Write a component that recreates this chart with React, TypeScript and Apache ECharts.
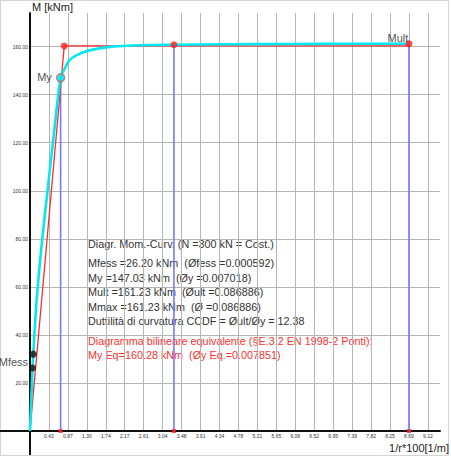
import React, { useEffect, useRef } from "react";
import * as echarts from "echarts";

// Moment-curvature curve (phi in 1/r*100 [1/m], M in kNm)
const curvePhi = [0, 0.0592, 0.075, 0.153, 0.27, 0.42, 0.55, 0.7018, 0.8, 0.917, 1.146, 1.44, 1.88, 2.52, 3.3, 4.5, 6.0, 7.5, 8.6886];
const curveM = [0, 26.2, 32, 54.6, 78, 103, 124, 147.03, 151, 154.6, 157.1, 158.75, 160.0, 160.6, 160.8, 161.0, 161.1, 161.2, 161.23];

// Equivalent bilinear diagram
const bilinPhi = [0, 0.7851, 8.6886];
const bilinM = [0, 160.28, 160.28];

// Characteristic points
const mfessPoints = [[0.0592, 26.2], [0.075, 32]];
const myPoint = [0.7018, 147.03];
const redDots = [[0.7851, 160.28], [3.3, 160.8], [8.6886, 161.23]];
const verticalPhi = [0.7018, 3.3, 8.6886];
const verticalM = [147.03, 160.8, 161.23];

const X_INTERVAL = 8.6886 / 20;
const X_MAX = 9.4;
const Y_INTERVAL = 20;
const Y_MAX = 174;

const infoLines = [
  "Diagr. Mom.-Curv. (N =300 kN = Cost.)",
  "Mfess =26.20 kNm  (Øfess =0.000592)",
  "My =147.03 kNm  (Øy =0.007018)",
  "Mult =161.23 kNm  (Øult =0.086886)",
  "Mmax =161.23 kNm  (Ø =0.086886)",
  "Duttilità di curvatura CCDF = Øult/Øy = 12.38",
];
const infoY = [244, 263, 278, 292, 307, 321];
const redLines = [
  "Diagramma bilineare equivalente (§E.3.2 EN 1998-2 Ponti):",
  "My Eq=160.28 kNm  (Øy Eq.=0.007851)",
];
const redY = [341, 355];

const W = 451;
const H = 457;
const GRID_LEFT = 30;
const GRID_RIGHT = 11;
const GRID_TOP = 13;
const GRID_BOTTOM = 26;
const FONT = "Liberation Sans, Arial, sans-serif";

export default function App() {
  const ref = useRef<HTMLDivElement>(null);
  useEffect(() => {
    document.body.style.margin = "0";
    const chart = echarts.init(ref.current!, null, { renderer: "svg" });
    const vertData: any[] = [];
    verticalPhi.forEach((p, i) => {
      vertData.push([p, 0], [p, verticalM[i]], "-");
    });
    const originY = H - GRID_BOTTOM;
    const graphics: any[] = [
      { type: "rect", shape: { x: 0.5, y: 0.5, width: 448, height: 455 }, style: { fill: "none", stroke: "#d4d4d4", lineWidth: 1 }, silent: true },
      { type: "line", shape: { x1: 0, y1: originY, x2: GRID_LEFT, y2: originY }, style: { stroke: "#111", lineWidth: 2 } },
      { type: "line", shape: { x1: GRID_LEFT, y1: originY, x2: GRID_LEFT, y2: 455 }, style: { stroke: "#111", lineWidth: 2 } },
      { type: "text", x: 32, y: 7, style: { text: "M [kNm]", font: `11px ${FONT}`, fill: "#222", textVerticalAlign: "middle" } },
      { type: "text", x: 449, y: 448, style: { text: "1/r*100[1/m]", font: `11px ${FONT}`, fill: "#222", textAlign: "right", textVerticalAlign: "middle" } },
    ];
    infoLines.forEach((t, i) => {
      graphics.push({ type: "text", x: 88, y: infoY[i], style: { text: t, font: `10.8px ${FONT}`, fill: "#333", textVerticalAlign: "middle" } });
    });
    redLines.forEach((t, i) => {
      graphics.push({ type: "text", x: 88, y: redY[i], style: { text: t, font: `10.8px ${FONT}`, fill: "#ff3030", textVerticalAlign: "middle" } });
    });

    chart.setOption({
      animation: false,
      backgroundColor: "#ffffff",
      grid: { left: GRID_LEFT, right: GRID_RIGHT, top: GRID_TOP, bottom: GRID_BOTTOM, containLabel: false },
      xAxis: {
        type: "value",
        min: 0,
        max: X_MAX,
        interval: X_INTERVAL,
        axisLine: { onZero: true, lineStyle: { color: "#111", width: 2 } },
        axisTick: { show: false },
        splitLine: { show: true, showMinLine: false, showMaxLine: false, lineStyle: { color: "#b4b4b4", width: 1 } },
        axisLabel: {
          fontSize: 5,
          fontFamily: FONT,
          color: "#333",
          margin: 2,
          formatter: (v: number) => (v <= 0 || v > 9.2 ? "" : v.toFixed(2)),
        },
      },
      yAxis: {
        type: "value",
        min: 0,
        max: Y_MAX,
        interval: Y_INTERVAL,
        axisLine: { onZero: true, lineStyle: { color: "#111", width: 2 } },
        axisTick: { show: false },
        splitLine: { show: true, showMinLine: false, showMaxLine: false, lineStyle: { color: "#b4b4b4", width: 1 } },
        axisLabel: {
          fontSize: 5,
          fontFamily: FONT,
          color: "#333",
          margin: 2,
          formatter: (v: number) => (v <= 0 || v > 165 ? "" : v.toFixed(2)),
        },
      },
      series: [
        {
          type: "line",
          data: vertData,
          connectNulls: false,
          showSymbol: false,
          lineStyle: { color: "#7878ff", width: 1.6 },
          z: 2,
        },
        {
          type: "line",
          data: bilinPhi.map((p, i) => [p, bilinM[i]]),
          showSymbol: false,
          lineStyle: { color: "#ff2a2a", width: 1.3 },
          z: 3,
        },
        {
          type: "line",
          data: curvePhi.map((p, i) => [p, curveM[i]]),
          smooth: 0.3,
          showSymbol: false,
          lineStyle: { color: "#00e8f2", width: 2.6 },
          z: 4,
        },
        {
          type: "scatter",
          data: verticalPhi.map((p) => [p, 0]),
          symbol: "rect",
          symbolSize: 4,
          itemStyle: { color: "#ff2020" },
          z: 5,
        },
        {
          type: "scatter",
          data: redDots.map((d, i) =>
            i === 2
              ? { value: d, label: { show: true, formatter: "Mult", position: [-18, -8], fontSize: 11, fontFamily: FONT, color: "#222" } }
              : { value: d }
          ),
          symbolSize: 7,
          itemStyle: { color: "#ff2020" },
          z: 6,
        },
        {
          type: "scatter",
          data: [myPoint],
          symbolSize: 8,
          itemStyle: { color: "#00e8f2", borderColor: "#c86060", borderWidth: 1.5 },
          label: { show: true, formatter: "My", position: "left", distance: 4, offset: [0, -1], fontSize: 11, fontFamily: FONT, color: "#222" },
          z: 7,
        },
        {
          type: "scatter",
          data: mfessPoints.map((d, i) =>
            i === 0
              ? { value: d, label: { show: true, formatter: "Mfess", position: "left", distance: 1, offset: [0, -6], fontSize: 11, fontFamily: FONT, color: "#222" } }
              : { value: d }
          ),
          symbolSize: 7,
          itemStyle: { color: "#111" },
          z: 7,
        },
      ],
      graphic: graphics,
    });
    return () => chart.dispose();
  }, []);
  return <div ref={ref} style={{ width: W, height: H }} />;
}
